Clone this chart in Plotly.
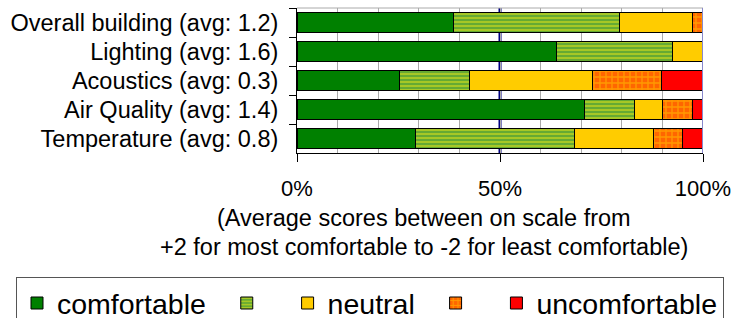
import plotly.graph_objects as go

categories = ["Overall building (avg: 1.2)", "Lighting (avg: 1.6)", "Acoustics (avg: 0.3)",
              "Air Quality (avg: 1.4)", "Temperature (avg: 0.8)"]
comfortable = [38.6, 64.0, 25.3, 70.9, 29.3]
somewhat_comfortable = [40.9, 28.4, 17.2, 12.2, 39.1]
neutral = [17.9, 7.6, 30.2, 7.0, 19.4]
somewhat_uncomfortable = [2.6, 0.0, 17.2, 7.4, 7.2]
uncomfortable = [0.0, 0.0, 10.1, 2.5, 5.0]
tick_vals = [0, 50, 100]
tick_text = ["0%", "50%", "100%"]

FONT = "Liberation Sans, Arial, sans-serif"
NB = "\u00a0"

series = [
    ("comfortable" + NB * 2, comfortable, dict(color="#008000")),
    (NB * 2, somewhat_comfortable, dict(color="#66AA33", pattern=dict(shape="-", fgcolor="#E6E619", bgcolor="#66AA33", size=4, solidity=0.5))),
    ("neutral" + NB * 2, neutral, dict(color="#FFCC00")),
    (NB * 2, somewhat_uncomfortable, dict(color="#FF6600", pattern=dict(shape="+", fgcolor="#FFCC00", bgcolor="#FF6600", size=6, solidity=0.4))),
    ("uncomfortable", uncomfortable, dict(color="#FF0000")),
]

fig = go.Figure()
for name, vals, marker in series:
    marker = dict(marker)
    marker["line"] = dict(color="#000000", width=1)
    fig.add_trace(go.Bar(y=categories, x=vals, name=name, orientation="h", marker=marker,
                         hoverinfo="x+y"))

fig.add_shape(type="line", xref="x", yref="paper", x0=50, x1=50, y0=0, y1=1,
              line=dict(color="#000080", width=3), layer="below")
fig.add_shape(type="line", xref="x", yref="paper", x0=100, x1=100, y0=0, y1=1,
              line=dict(color="#8888CC", width=2), layer="above")
fig.add_shape(type="line", xref="x", yref="paper", x0=0, x1=100, y0=1, y1=1,
              line=dict(color="#AAAAAA", width=1), layer="below")

fig.add_annotation(text="(Average scores between on scale from", xref="paper", yref="paper",
                   x=0.29, y=-0.445, showarrow=False, font=dict(family=FONT, size=23.5, color="#000"),
                   xanchor="center", yanchor="middle")
fig.add_annotation(text="+2 for most comfortable to -2 for least comfortable)", xref="paper", yref="paper",
                   x=0.29, y=-0.65, showarrow=False, font=dict(family=FONT, size=23.5, color="#000"),
                   xanchor="center", yanchor="middle")

fig.update_layout(
    width=735, height=318,
    margin=dict(l=297, r=0, t=8, b=165, autoexpand=False),
    barmode="stack", bargap=0.31,
    paper_bgcolor="#FFFFFF", plot_bgcolor="#FFFFFF",
    font=dict(family=FONT, color="#000000"),
    showlegend=True,
    legend=dict(orientation="h", x=(16 - 297) / 438, y=-0.855, xanchor="left", yanchor="top",
                font=dict(family=FONT, size=28.5, color="#000"), bordercolor="#555555", borderwidth=1,
                bgcolor="#FFFFFF", traceorder="normal"),
    xaxis=dict(domain=[0, 406 / 438], range=[0, 100], tickvals=tick_vals, ticktext=tick_text,
               ticks="outside", ticklen=8,
               tickcolor="#000", showline=True, linecolor="#000", linewidth=1, mirror=False,
               showgrid=False, zeroline=False, tickfont=dict(family=FONT, size=22),
               ticklabelstandoff=8, fixedrange=True,
               minor=dict(dtick=10, tick0=0, showgrid=True, gridcolor="#AAAAAA", gridwidth=1)),
    yaxis=dict(categoryorder="array", categoryarray=categories, autorange="reversed",
               ticks="outside", ticklen=7, tickcolor="#000", tickson="boundaries",
               showline=True, linecolor="#000", linewidth=1, showgrid=False,
               tickfont=dict(family=FONT, size=23.5), ticklabelstandoff=13, fixedrange=True),
)

fig.write_html("out.html", config={"displayModeBar": False},
               post_script="document.body.style.margin='0px';document.body.style.overflow='hidden';")
